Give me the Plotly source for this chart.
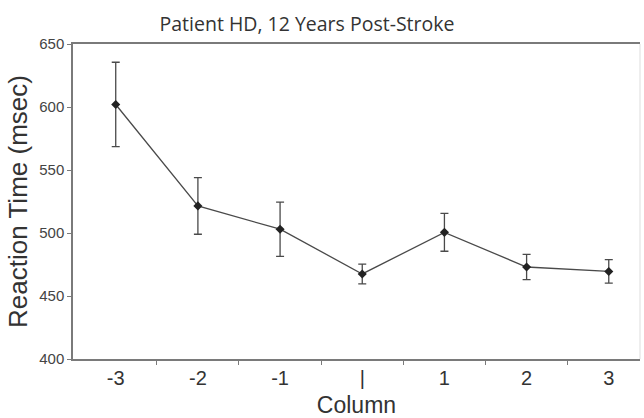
import plotly.graph_objects as go

columns = [-3, -2, -1, 0, 1, 2, 3]
tick_labels = ["-3", "-2", "-1", "|", "1", "2", "3"]
rt_mean = [602, 521.5, 503, 467.5, 500.5, 473, 469.5]
rt_err = [33.5, 22.5, 21.5, 7.8, 15, 10, 9.3]
y_ticks = [400, 450, 500, 550, 600, 650]

fig = go.Figure()
fig.add_trace(go.Scatter(
    x=columns, y=rt_mean, mode="lines+markers",
    line=dict(color="#4a4a4a", width=1.3),
    marker=dict(symbol="diamond", size=7, color="#222222"),
    error_y=dict(type="data", array=rt_err, visible=True, color="#4a4a4a", thickness=1.3, width=4),
    showlegend=False,
))

fig.update_layout(
    width=644, height=418,
    margin=dict(l=73, r=4, t=44, b=59),
    paper_bgcolor="white", plot_bgcolor="white",
    title=dict(text="Patient HD, 12 Years Post-Stroke", x=307/644, xref="container",
               xanchor="center", y=1 - 24/418, yanchor="middle",
               font=dict(family="Open Sans", size=19.5, color="#333333")),
    font=dict(family="Liberation Sans", color="#333333"),
)
fig.update_xaxes(
    range=[-3.52, 3.38], showgrid=False, zeroline=False,
    showline=True, linecolor="#7a7a7a", linewidth=1.5, mirror=True,
    tickmode="array", tickvals=columns, ticktext=tick_labels, ticks="",
    tickfont=dict(size=20, color="#333333"),
    minor=dict(tickmode="array", tickvals=[-2.5, -1.5, -0.5, 0.5, 1.5, 2.5], ticks="outside",
               ticklen=4, tickcolor="#7a7a7a", tickwidth=1),
    title=dict(text="Column", font=dict(size=23, color="#333333"), standoff=9),
)
fig.update_yaxes(
    range=[400, 650], showgrid=False, zeroline=False,
    showline=True, linecolor="#7a7a7a", linewidth=1.5,
    tickmode="array", tickvals=y_ticks, ticks="outside", ticklen=4, tickcolor="#7a7a7a",
    tickfont=dict(size=15, color="#444444"),
    title=dict(text="Reaction Time (msec)", font=dict(size=26, color="#333333"), standoff=4),
)
fig.add_shape(type="line", xref="paper", yref="paper", x0=1, x1=1, y0=0, y1=1,
              line=dict(color="#dddddd", width=1))

fig.write_html("out.html")
